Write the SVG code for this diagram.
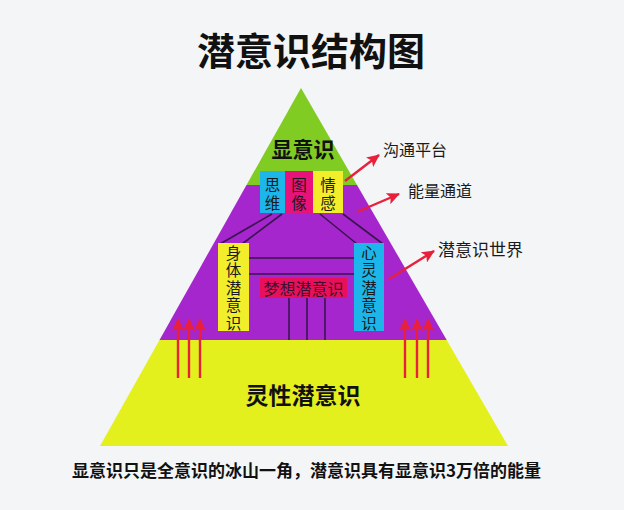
<svg xmlns="http://www.w3.org/2000/svg" width="624" height="510" viewBox="0 0 624 510">
<style>
.b{font-family:"Noto Sans CJK SC","Noto Sans",sans-serif;font-weight:bold;fill:#111}
.t{font-family:"Noto Sans CJK SC","Noto Sans",sans-serif;fill:#1a1a1a}
.v{font-size:15.5px;text-anchor:middle}
.ln{stroke:#3a1550;stroke-width:1.6;fill:none}
.ar{stroke:#e8203c;stroke-width:2.4;fill:none}
</style>
<defs>
<marker id="ah" markerUnits="userSpaceOnUse" markerWidth="14" markerHeight="12" refX="12" refY="6" orient="auto">
<path d="M0,0 L13,6 L0,12 L3,6 Z" fill="#e8203c"/>
</marker>
</defs>
<rect width="624" height="510" fill="#f3f5f7"/>
<text class="b" x="311" y="65" font-size="38" text-anchor="middle">潜意识结构图</text>
<g id="pyramid">
<polygon id="green" points="301,88 357,185 246.5,185" fill="#80cc22"/>
<polygon id="purple" points="246.5,185 357,185 446.7,340 159.5,340" fill="#a526cc"/>
<polygon id="yellow" points="159.5,340 446.7,340 508,446 100,446" fill="#e4f01e"/>
</g>
<g id="connectors">
<line class="ln" x1="272" y1="214" x2="220" y2="244"/>
<line class="ln" x1="282" y1="214" x2="242" y2="244"/>
<line class="ln" x1="320" y1="214" x2="357" y2="244"/>
<line class="ln" x1="343" y1="214" x2="383" y2="244"/>
<line class="ln" x1="249" y1="258" x2="354" y2="258"/>
<line class="ln" x1="249" y1="274" x2="354" y2="274"/>
<line class="ln" x1="289" y1="298" x2="289" y2="340"/>
<line class="ln" x1="307" y1="298" x2="307" y2="340"/>
<line class="ln" x1="325" y1="298" x2="325" y2="340"/>
<line class="ar" x1="345" y1="181" x2="379" y2="155" marker-end="url(#ah)"/>
<line class="ar" x1="357" y1="212" x2="399" y2="194" marker-end="url(#ah)"/>
<line class="ar" x1="389" y1="279" x2="434" y2="251" marker-end="url(#ah)"/>
<line class="ar" x1="178" y1="378" x2="178" y2="319" marker-end="url(#ah)"/>
<line class="ar" x1="189" y1="378" x2="189" y2="319" marker-end="url(#ah)"/>
<line class="ar" x1="200" y1="378" x2="200" y2="319" marker-end="url(#ah)"/>
<line class="ar" x1="405" y1="378" x2="405" y2="319" marker-end="url(#ah)"/>
<line class="ar" x1="417" y1="378" x2="417" y2="319" marker-end="url(#ah)"/>
<line class="ar" x1="428" y1="378" x2="428" y2="319" marker-end="url(#ah)"/>
</g>
<g id="conscious"><text class="b" x="303" y="157" font-size="21" text-anchor="middle">显意识</text></g>
<g id="siwei">
<rect x="260" y="171" width="25" height="42" fill="#1cb6ea"/>
<text class="t v" x="272.5" y="190.5">思</text>
<text class="t v" x="272.5" y="209">维</text>
</g>
<g id="tuxiang">
<rect x="285" y="171" width="28" height="42" fill="#e8127c"/>
<text class="t v" x="299" y="190.5">图</text>
<text class="t v" x="299" y="209">像</text>
</g>
<g id="qinggan">
<rect x="313" y="171" width="30" height="42" fill="#f2ee2c"/>
<text class="t v" x="328" y="190.5">情</text>
<text class="t v" x="328" y="209">感</text>
</g>
<g id="body">
<rect x="218" y="243" width="31" height="88" fill="#f2ee2c"/>
<text class="t v" x="233.5" y="258.5">身</text>
<text class="t v" x="233.5" y="276">体</text>
<text class="t v" x="233.5" y="293.5">潜</text>
<text class="t v" x="233.5" y="311">意</text>
<text class="t v" x="233.5" y="328.5">识</text>
</g>
<g id="mind">
<rect x="354" y="243" width="30" height="88" fill="#1cb6ea"/>
<text class="t v" x="369" y="258.5">心</text>
<text class="t v" x="369" y="276">灵</text>
<text class="t v" x="369" y="293.5">潜</text>
<text class="t v" x="369" y="311">意</text>
<text class="t v" x="369" y="328.5">识</text>
</g>
<g id="dream">
<rect x="260" y="278" width="87" height="20" fill="#e8105a"/>
<text class="t" x="303.5" y="295" font-size="16" text-anchor="middle" style="fill:#3a1030">梦想潜意识</text>
</g>
<g id="spirit"><text class="b" x="303" y="404" font-size="23" text-anchor="middle">灵性潜意识</text></g>
<g id="label1"><text class="t" x="383" y="156" font-size="16">沟通平台</text></g>
<g id="label2"><text class="t" x="408" y="197" font-size="16">能量通道</text></g>
<g id="label3"><text class="t" x="438" y="256" font-size="17">潜意识世界</text></g>
<text class="b" x="72" y="477" font-size="17">显意识只是全意识的冰山一角，潜意识具有显意识3万倍的能量</text>
</svg>
